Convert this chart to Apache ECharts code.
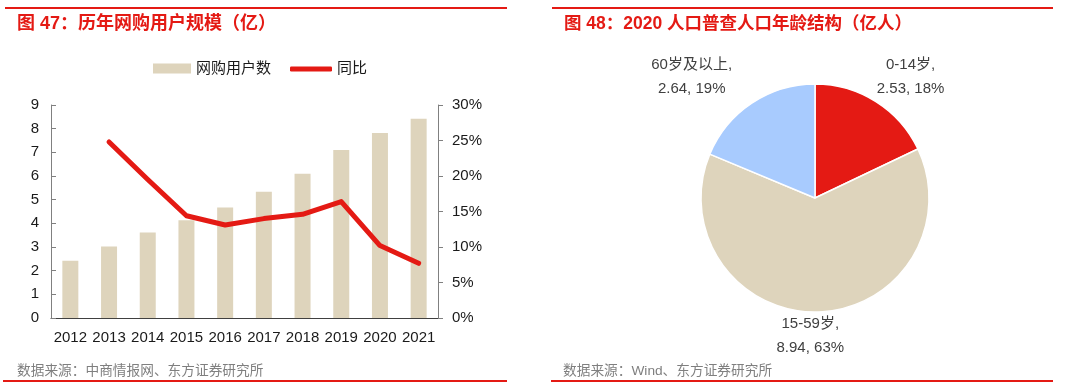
<!DOCTYPE html>
<html><head><meta charset="utf-8">
<script src="https://cdn.jsdelivr.net/npm/echarts@6/dist/echarts.min.js"></script>
<style>html,body{margin:0;padding:0;background:#fff}#c{width:1080px;height:389px}</style>
</head><body><div id="c"></div>
<script>
const years = ['2012','2013','2014','2015','2016','2017','2018','2019','2020','2021'];
const users = [2.42, 3.02, 3.61, 4.13, 4.67, 5.33, 6.10, 7.10, 7.82, 8.42];
const yoy = [null, 24.8, 19.5, 14.4, 13.1, 14.0, 14.6, 16.4, 10.2, 7.7];
const ageGroups = ['0-14岁', '15-59岁', '60岁及以上'];
const ageValues = [2.53, 8.94, 2.64];
const leftTicks = [0, 9, 1];
const rightTicks = [0, 30, 5];

const RED = '#E41A14', BEIGE = '#DED4BC', BLUE = '#A8CBFE';
const FONT = '"Liberation Sans","Noto Sans CJK SC",Arial,sans-serif';
const chart = echarts.init(document.getElementById('c'), null, {renderer: 'canvas'});

const line = (x1, x2, y) => ({type: 'line', shape: {x1, y1: y, x2, y2: y}, style: {stroke: RED, lineWidth: 2}});
const txt = (x, y, t, size, color, weight) => ({type: 'text', x, y, style: {text: t, font: `${weight||'normal'} ${size}px ${FONT}`, fill: color, textVerticalAlign: 'middle'}});

// per-slice label nudges (layout only)
const labelShift = [[19, -8], [-13, 4], [-44, -10]];

chart.setOption({
  animation: false,
  textStyle: {fontFamily: FONT},
  graphic: [
    line(5, 507, 8), line(552, 1053, 8), line(3, 507, 381), line(551, 1053, 381),
    txt(17, 24, '图 47：历年网购用户规模（亿）', 18, RED, 'bold'),
    txt(564, 24, '图 48：2020 人口普查人口年龄结构（亿人）', 17.5, RED, 'bold'),
    txt(17, 371, '数据来源：中商情报网、东方证券研究所', 13.7, '#7f7f7f'),
    txt(563, 371, '数据来源：Wind、东方证券研究所', 13.7, '#7f7f7f')
  ],
  legend: [{
    left: 153, top: 61, padding: 0, itemWidth: 38, itemHeight: 10,
    textStyle: {fontSize: 15, color: '#1a1a1a', fontFamily: FONT},
    data: [{name: '网购用户数', icon: 'rect'}]
  }, {
    left: 290, top: 61.5, padding: 0, itemWidth: 42, itemHeight: 5, itemGap: 3,
    textStyle: {fontSize: 15, color: '#1a1a1a', fontFamily: FONT},
    data: [{name: '同比', icon: 'roundRect'}]
  }],
  grid: {left: 51, right: 642, top: 105, bottom: 71, containLabel: false},
  xAxis: {
    type: 'category', data: years,
    axisLine: {lineStyle: {color: '#404040'}},
    axisTick: {inside: true, length: 5, lineStyle: {color: '#404040'}},
    axisLabel: {color: '#1a1a1a', fontSize: 15, margin: 12, interval: 0}
  },
  yAxis: [{
    type: 'value', min: leftTicks[0], max: leftTicks[1], interval: leftTicks[2],
    axisLine: {show: true, lineStyle: {color: '#808080'}},
    axisTick: {show: true, inside: true, length: 5, lineStyle: {color: '#808080'}},
    splitLine: {show: false},
    axisLabel: {color: '#1a1a1a', fontSize: 15, margin: 12}
  }, {
    type: 'value', min: rightTicks[0], max: rightTicks[1], interval: rightTicks[2],
    axisLine: {show: true, lineStyle: {color: '#808080'}},
    axisTick: {show: true, length: 5, lineStyle: {color: '#808080'}},
    splitLine: {show: false},
    axisLabel: {color: '#1a1a1a', fontSize: 15, margin: 14, formatter: '{value}%'}
  }],
  series: [{
    name: '网购用户数', type: 'bar', data: users, barWidth: 16,
    itemStyle: {color: BEIGE}
  }, {
    name: '同比', type: 'line', yAxisIndex: 1, data: yoy, symbol: 'none',
    lineStyle: {color: RED, width: 5, cap: 'round', join: 'round'}, itemStyle: {color: RED}
  }, {
    name: '年龄结构', type: 'pie', center: [815, 198], radius: 114,
    startAngle: 90, clockwise: true, percentPrecision: 0,
    data: ageGroups.map((n, i) => ({name: n, value: ageValues[i]})),
    color: [RED, BEIGE, BLUE],
    itemStyle: {borderColor: '#fff', borderWidth: 1.5},
    label: {position: 'outside', formatter: '{b},\n{c}, {d}%', fontSize: 15, color: '#404040', lineHeight: 24},
    labelLine: {show: false, length: 20, length2: 0},
    labelLayout: (p) => ({dx: labelShift[p.dataIndex][0], dy: labelShift[p.dataIndex][1], align: 'center'})
  }]
});
</script></body></html>
